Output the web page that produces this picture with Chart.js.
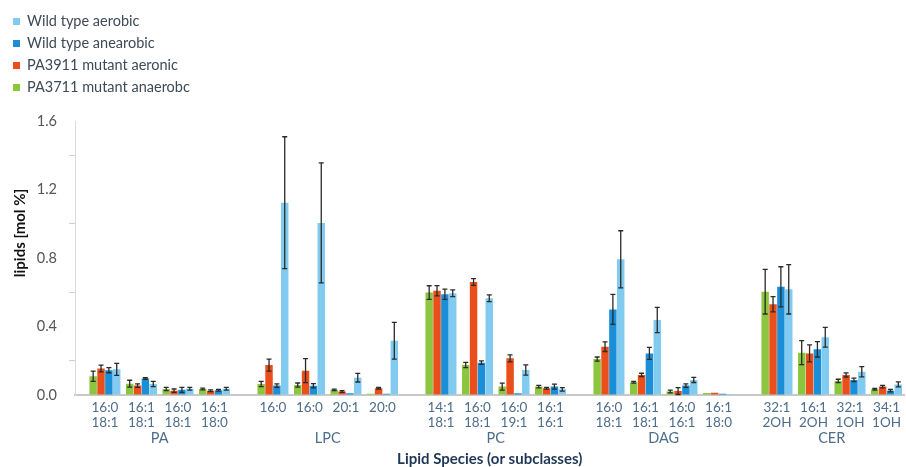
<!DOCTYPE html>
<html>
<head>
<meta charset="utf-8">
<script src="https://cdn.jsdelivr.net/npm/chart.js@4"></script>
<style>
	html, body { margin: 0; padding: 0; background: #fff; }
	#wrap { position: relative; width: 906px; height: 467px; }
	#legend { position: absolute; left: 13px; top: 11px; font: 14.5px Lato, sans-serif; color: #3e4a58; }
	#legend div { height: 22px; line-height: 20px; white-space: nowrap; }
	#legend span { display: inline-block; width: 7px; height: 7px; margin-right: 7px; vertical-align: 1px; }
</style>
</head>
<body>
<div id="wrap">
	<canvas id="myChart" width="906" height="467"></canvas>
	<div id="legend"></div>
</div>
<script>
const groups = ["PA", "LPC", "PC", "DAG", "CER"];
const categories = [
	"16:0\n18:1", "16:1\n18:1", "16:0\n18:1", "16:1\n18:0",
	"16:0", "16:0", "20:1", "20:0",
	"14:1\n18:1", "16:0\n18:1", "16:0\n19:1", "16:1\n16:1",
	"16:0\n18:1", "16:1\n18:1", "16:0\n16:1", "16:1\n18:0",
	"32:1\n2OH", "16:1\n2OH", "32:1\n1OH", "34:1\n1OH",
];
const yTicks = [0, 0.4, 0.8, 1.2, 1.6];

const mutantAnaerobic = [0.11, 0.066, 0.035, 0.035, 0.064, 0.058, 0.03, 0.008, 0.598, 0.175, 0.049, 0.049, 0.21, 0.074, 0.02, 0.012, 0.603, 0.247, 0.082, 0.033];
const mutantAnaerobicErr = [0.03, 0.02, 0.01, 0.005, 0.015, 0.012, 0.004, 0, 0.04, 0.015, 0.02, 0.007, 0.012, 0.005, 0.008, 0, 0.13, 0.07, 0.01, 0.005];
const mutantAerobic = [0.155, 0.055, 0.025, 0.025, 0.175, 0.142, 0.02, 0.04, 0.609, 0.66, 0.214, 0.039, 0.282, 0.117, 0.023, 0.013, 0.53, 0.243, 0.117, 0.049];
const mutantAerobicErr = [0.02, 0.01, 0.01, 0.005, 0.035, 0.07, 0.005, 0.005, 0.03, 0.02, 0.02, 0.005, 0.028, 0.01, 0.02, 0, 0.045, 0.05, 0.012, 0.007];
const wildAnaerobic = [0.145, 0.097, 0.03, 0.028, 0.055, 0.054, 0.01, 0.008, 0.588, 0.189, 0.01, 0.049, 0.5, 0.243, 0.055, 0.008, 0.632, 0.267, 0.088, 0.025];
const wildAnaerobicErr = [0.015, 0.005, 0.015, 0.005, 0.01, 0.012, 0, 0, 0.03, 0.01, 0, 0.015, 0.088, 0.035, 0.01, 0, 0.117, 0.045, 0.01, 0.007];
const wildAerobic = [0.15, 0.064, 0.037, 0.036, 1.123, 1.005, 0.101, 0.317, 0.594, 0.565, 0.146, 0.033, 0.792, 0.438, 0.088, 0.006, 0.617, 0.337, 0.136, 0.062];
const wildAerobicErr = [0.035, 0.015, 0.008, 0.008, 0.385, 0.35, 0.025, 0.107, 0.02, 0.02, 0.03, 0.01, 0.167, 0.074, 0.015, 0, 0.144, 0.058, 0.03, 0.015];

// x position of each category: 4 per group, extra gap between groups
const GAP = 0.6;
const positions = categories.map((c, i) => i + Math.floor(i / 4) * GAP);
const groupCenters = groups.map((g, k) => (positions[k * 4] + positions[k * 4 + 3]) / 2);

const series = [
	{ label: "PA3711 mutant anaerobc", data: mutantAnaerobic, err: mutantAnaerobicErr, color: "#8cc63f" },
	{ label: "PA3911 mutant aeronic", data: mutantAerobic, err: mutantAerobicErr, color: "#e94e1b" },
	{ label: "Wild type anearobic", data: wildAnaerobic, err: wildAnaerobicErr, color: "#1b8ed8" },
	{ label: "Wild type aerobic", data: wildAerobic, err: wildAerobicErr, color: "#80cbef" },
];

// legend, top-left, reverse order
document.getElementById("legend").innerHTML = series.slice().reverse()
	.map(s => `<div><span style="background:${s.color}"></span>${s.label}</div>`).join("");

const errorBars = {
	id: "errorBars",
	afterDatasetsDraw(chart) {
		const ctx = chart.ctx;
		const y = chart.scales.y;
		ctx.save();
		ctx.strokeStyle = "#2a2a2a";
		ctx.lineWidth = 1.3;
		chart.data.datasets.forEach((ds, d) => {
			chart.getDatasetMeta(d).data.forEach((bar, i) => {
				const e = ds.errors[i];
				if (!e) return;
				const v = ds.data[i].y;
				const top = y.getPixelForValue(v + e);
				const bot = y.getPixelForValue(Math.max(v - e, 0));
				const cap = 2.5;
				ctx.beginPath();
				ctx.moveTo(bar.x, top); ctx.lineTo(bar.x, bot);
				ctx.moveTo(bar.x - cap, top); ctx.lineTo(bar.x + cap, top);
				ctx.moveTo(bar.x - cap, bot); ctx.lineTo(bar.x + cap, bot);
				ctx.stroke();
			});
		});
		ctx.restore();
	},
};

// y title sits above the middle of the axis in the original
const yTitle = {
	id: "yTitle",
	afterDraw(chart) {
		const ctx = chart.ctx;
		ctx.save();
		ctx.translate(20, 233);
		ctx.rotate(-Math.PI / 2);
		ctx.textAlign = "center";
		ctx.textBaseline = "middle";
		ctx.fillStyle = "#111";
		ctx.font = "bold 15px Lato";
		ctx.fillText("lipids [mol %]", 0, 0);
		ctx.restore();
	},
};

const xMin = -0.82, xMax = 21.89;

new Chart(document.getElementById("myChart"), {
	type: "bar",
	data: {
		datasets: series.map(s => ({
			label: s.label,
			data: s.data.map((v, i) => ({ x: positions[i], y: v })),
			errors: s.err,
			backgroundColor: s.color,
			borderWidth: 0,
			barPercentage: 0.95,
			categoryPercentage: 0.86,
		})),
	},
	options: {
		responsive: false,
		animation: false,
		layout: { padding: { top: 121, left: 0, right: 0, bottom: 0 } },
		plugins: { legend: { display: false }, tooltip: { enabled: false } },
		scales: {
			x: {
				type: "linear",
				offset: false,
				bounds: "data",
				min: xMin,
				max: xMax,
				afterBuildTicks: scale => { scale.ticks = positions.map(v => ({ value: v })); },
				afterFit: scale => { scale.height = 35; },
				ticks: {
					autoSkip: false,
					maxRotation: 0,
					padding: 5,
					color: "#4d6d8c",
					font: { family: "Lato", size: 13.5, lineHeight: 1.12 },
					callback: (value, index) => categories[index].split("\n"),
				},
				grid: { display: false, drawTicks: false, offset: false },
				border: { display: true, color: "#c8c8c8", width: 2 },
			},
			x2: {
				type: "linear",
				position: "bottom",
				offset: false,
				bounds: "data",
				min: xMin,
				max: xMax,
				afterBuildTicks: scale => { scale.ticks = groupCenters.map(v => ({ value: v })); },
				afterFit: scale => { scale.height = 37; },
				ticks: {
					autoSkip: false,
					maxRotation: 0,
					padding: 0,
					color: "#4d6d8c",
					font: { family: "Lato", size: 14.5 },
					callback: (value, index) => groups[index],
				},
				grid: { display: false, drawTicks: false, offset: false },
				border: { display: false },
				title: {
					display: true,
					text: "Lipid Species (or subclasses)",
					color: "#1e3756",
					font: { family: "Lato", size: 15, weight: "bold", lineHeight: 1.0 },
					padding: { top: 4, bottom: 0 },
				},
			},
			y: {
				min: 0,
				max: 1.6,
				afterFit: scale => { scale.width = 75; },
				ticks: {
					stepSize: 0.2,
					padding: 12,
					color: "#555",
					font: { family: "Lato", size: 14.5 },
					callback: v => yTicks.some(t => Math.abs(t - v) < 1e-6) ? v.toFixed(1) : "",
				},
				grid: {
					drawOnChartArea: false,
					tickLength: 6,
					color: c => yTicks.some(t => Math.abs(t - c.tick.value) < 1e-6) ? "rgba(0,0,0,0)" : "#cfcfcf",
				},
				border: { display: true, color: "#dadada", width: 1 },
			},
		},
	},
	plugins: [errorBars, yTitle],
});
</script>
</body>
</html>
